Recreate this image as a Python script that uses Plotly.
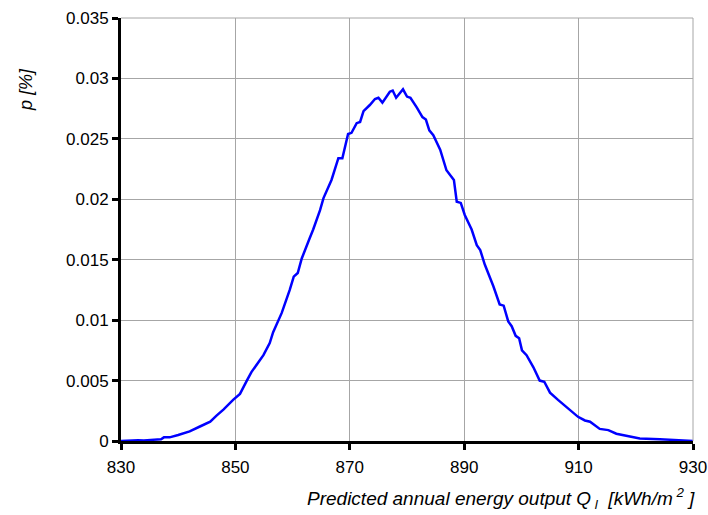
import plotly.graph_objects as go

# Predicted annual energy output (kWh/m2) and probability p [%]
energy = [830, 831, 832, 833, 834, 835, 836, 837, 837.5, 838.5, 840, 841, 842, 843.8, 845.6,
          846.7, 847.9, 849.6, 850.8, 852, 852.8, 854.9, 856, 856.6, 858.1, 859.5,
          860.2, 860.9, 861.6, 863, 863.6, 864.8, 865.4, 866.8, 868, 868.7, 869.7,
          870.3, 871.2, 871.8, 872.4, 873.5, 874.4, 875, 875.7, 877, 877.5, 878.1,
          879.3, 880, 880.6, 881.7, 882.7, 883.3, 883.9, 884.6, 885.8, 886.9, 888,
          888.2, 888.7, 889.4, 890.1, 891.3, 892.2, 892.8, 893.6, 895.1, 896.2,
          896.9, 897.7, 898.3, 899, 899.6, 900.1, 900.9, 902.1, 903.2, 904, 905,
          906.4, 908.5, 909.9, 911.1, 912, 913.7, 915.2, 916.6, 918.4, 920.7, 924.2,
          927.7, 930]
prob = [0.0, 0.00003, 0.0, 0.00006, 0.00005, 0.0001, 0.0001, 0.00015, 0.0003, 0.0003, 0.0005, 0.00064, 0.0008, 0.0012,
        0.0016, 0.0021, 0.0026, 0.0034, 0.0039, 0.0050, 0.0057, 0.0071, 0.0081,
        0.0090, 0.0106, 0.0125, 0.0136, 0.0139, 0.0151, 0.0168, 0.0175, 0.0191,
        0.0201, 0.0216, 0.0234, 0.0234, 0.0254, 0.0255, 0.0263, 0.0264, 0.0273,
        0.0278, 0.0283, 0.0284, 0.0280, 0.0289, 0.0290, 0.0284, 0.0291, 0.0285,
        0.0284, 0.0276, 0.0268, 0.0266, 0.0257, 0.0253, 0.0241, 0.0224, 0.0218,
        0.0216, 0.0198, 0.0197, 0.0187, 0.0175, 0.0162, 0.0158, 0.0146, 0.0128,
        0.0113, 0.0112, 0.0099, 0.0095, 0.0087, 0.0085, 0.0075, 0.0071, 0.0061,
        0.0050, 0.0049, 0.0040, 0.0034, 0.0026, 0.0020, 0.0017, 0.0016, 0.0010,
        0.0009, 0.0006, 0.0004, 0.0002, 0.00015, 0.00003, 0.0]

x_ticks = [830, 850, 870, 890, 910, 930]
y_ticks = [0, 0.005, 0.01, 0.015, 0.02, 0.025, 0.03, 0.035]
y_labels = ["0", "0.005", "0.01", "0.015", "0.02", "0.025", "0.03", "0.035"]

font = "Liberation Sans, Arial, sans-serif"

fig = go.Figure()
fig.add_trace(go.Scatter(x=energy, y=prob, mode="lines",
                         line=dict(color="#0000ff", width=2.5), hoverinfo="skip"))

fig.update_layout(
    width=708, height=515,
    margin=dict(l=121, r=15, t=18, b=74),
    paper_bgcolor="white", plot_bgcolor="white",
    showlegend=False,
    font=dict(family=font, size=17, color="black"),
    xaxis=dict(range=[830, 930], tickvals=x_ticks, ticktext=[str(v) for v in x_ticks],
               showgrid=True, gridcolor="#a6a6a6", gridwidth=1,
               showline=True, linecolor="black", linewidth=3,
               ticks="outside", ticklen=6, tickwidth=3, tickcolor="black",
               zeroline=False, tickfont=dict(size=17), automargin=False,
               ticklabeloverflow="allow", ticklabelstandoff=3),
    yaxis=dict(range=[0, 0.035], tickvals=y_ticks, ticktext=y_labels,
               showgrid=True, gridcolor="#a6a6a6", gridwidth=1,
               showline=True, linecolor="black", linewidth=3,
               ticks="outside", ticklen=6, tickwidth=3, tickcolor="black",
               zeroline=False, tickfont=dict(size=17), automargin=False,
               ticklabeloverflow="allow"),
    shapes=[
        dict(type="line", xref="paper", yref="paper", x0=0, x1=1, y0=1, y1=1,
             line=dict(color="#a6a6a6", width=1)),
        dict(type="line", xref="paper", yref="paper", x0=1, x1=1, y0=0, y1=1,
             line=dict(color="#a6a6a6", width=1)),
    ],
    annotations=[
        dict(text="<i>p [%]</i>", xref="paper", yref="paper", x=-0.166, y=0.83,
             textangle=-90, showarrow=False, font=dict(size=18),
             xanchor="center", yanchor="middle"),
        dict(text="<i>Predicted annual energy output Q<sub> l</sub>  [kWh/m<sup> 2</sup> ]</i>",
             xref="paper", yref="paper", x=1.007, y=-0.135, showarrow=False,
             font=dict(size=19), xanchor="right", yanchor="middle"),
    ],
)

fig.write_html("out.html")
